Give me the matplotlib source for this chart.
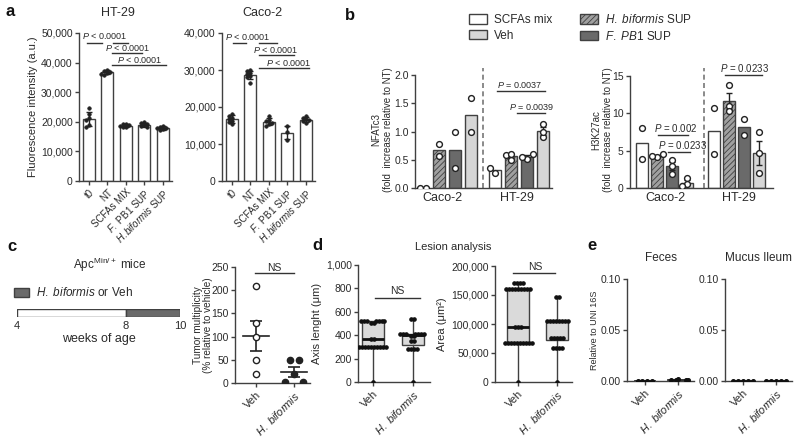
import numpy as np
import matplotlib
matplotlib.use('Agg')
import matplotlib.pyplot as plt
from matplotlib.patches import Patch

plt.rcParams['font.family'] = ['Liberation Sans', 'DejaVu Sans']
plt.rcParams['mathtext.fontset'] = 'custom'
plt.rcParams['mathtext.rm'] = 'Liberation Sans'
plt.rcParams['mathtext.it'] = 'Liberation Sans:italic'
plt.rcParams['hatch.linewidth'] = 0.6
plt.rcParams['text.color'] = '#2a2a2a'
plt.rcParams['axes.labelcolor'] = '#2a2a2a'
plt.rcParams['xtick.color'] = '#404040'
plt.rcParams['ytick.color'] = '#404040'
plt.rcParams['xtick.labelcolor'] = '#2a2a2a'
plt.rcParams['ytick.labelcolor'] = '#2a2a2a'

# ---------------- data ----------------
# panel a: fluorescence intensity, individual replicates
a_labels = ['t0', 'NT', 'SCFAs MIX', r'$\it{F.}$ PB1 SUP', r'$\it{H.biformis}$ SUP']
ht29_t0 = [24700, 22800, 21200, 20500, 19000, 18300]
ht29_nt = [37600, 37200, 36900, 36600, 36300, 35900]
ht29_scfa = [19400, 19100, 18800, 18600, 18400, 18100]
ht29_pb1 = [20000, 19500, 19100, 18800, 18500, 18100]
ht29_hbif = [18600, 18300, 18000, 17800, 17500, 17200]
caco_t0 = [18200, 17600, 17100, 16700, 16300, 15900, 15400]
caco_nt = [30000, 29600, 29200, 28800, 28400, 28000, 26500]
caco_scfa = [17600, 16500, 16100, 15800, 15500, 14800]
caco_pb1 = [14800, 13200, 11200]
caco_hbif = [17600, 17100, 16700, 16400, 16100, 15800]

# panel b: fold increase relative to NT (SCFAs mix, H. biformis, F. PB1, Veh)
b_groups = ['Caco-2', 'HT-29']
nfat_caco = [[0.0, 0.0], [0.56, 0.78], [0.35, 1.0], [1.0, 1.6]]
nfat_ht29 = [[0.27, 0.36], [0.50, 0.59, 0.61], [0.52, 0.55, 0.60], [0.90, 1.0, 1.13]]
h3k_caco = [[8.1, 3.9], [4.1, 4.3, 4.5], [3.8, 3.0, 1.9], [1.3, 0.6, 0.3]]
h3k_ht29 = [[10.7, 4.5], [13.8, 11.0, 10.3], [9.2, 7.1], [7.5, 4.7, 2.0]]

# panel c: tumour multiplicity
tumor_veh = [209, 129, 99, 50, 19]
tumor_hbif = [50, 50, 19, 2, 2]
timeline_weeks = [4, 8, 10]

# panel d: lesion analysis (min, q1, median, q3, max) and points
len_stats = [(0, 300, 370, 520, 520), (0, 316, 400, 410, 540)]
len_veh_pts = [0] + [300] * 10 + [370] * 2 + [505] * 2 + [520] * 7
len_hbif_pts = [0] + [285] * 4 + [350] * 2 + [395] * 2 + [410] * 7 + [540] * 2
area_stats = [(0, 67000, 95000, 160000, 170000), (0, 72000, 105000, 105000, 147000)]
area_veh_pts = [0] + [67000] * 10 + [95000] * 3 + [160000] * 9 + [170000] * 4
area_hbif_pts = [0] + [58000] * 4 + [76000] * 5 + [105000] * 8 + [147000] * 2

# panel e: relative to UNI 16S
feces_veh = [0, 0, 0, 0]
feces_hbif = [0.0015, 0.0005, 0.0005, 0.0005, 0.001]
mucus_veh = [0, 0, 0, 0, 0]
mucus_hbif = [0, 0, 0, 0, 0]

# ---------------- helpers ----------------
W, H = 800, 437
fig = plt.figure(figsize=(W / 100, H / 100), dpi=100)
AXC = '#404040'
LIGHT = '#d6d6d6'
DARK = '#6a6a6a'
HATCHF = '#a0a0a0'


def px_axes(l, t, r, b):
    return fig.add_axes([l / W, 1 - b / H, (r - l) / W, (b - t) / H])


def style(ax, fs=7.5):
    for s in ['top', 'right']:
        ax.spines[s].set_visible(False)
    for s in ['left', 'bottom']:
        ax.spines[s].set_color(AXC)
        ax.spines[s].set_linewidth(1)
    ax.tick_params(labelsize=fs, length=3, width=1, pad=1.5)


def swarm(vals, ppx, ppy, d):
    placed, offs = [], []
    for v in vals:
        y = v * ppy
        x = 0
        for k in [0, -1, 1, -2, 2, -3, 3, -4, 4, -5, 5, -6, 6]:
            x = k * d
            if all((x - a) ** 2 + (y - b) ** 2 >= (0.95 * d) ** 2 for a, b in placed):
                break
        placed.append((x, y))
        offs.append(x)
    offs = np.array(offs, float)
    vals = np.asarray(vals, float)
    for v in np.unique(vals):
        m = vals == v
        if m.sum() > 1:
            offs[m] -= offs[m].mean()
    return offs / ppx


def sig(ax, x0, x1, y, ty, tx, txt, fs=6.5):
    ax.plot([x0, x1], [y, y], color='#333333', lw=1, clip_on=False)
    if txt:
        ax.text(tx, ty, txt, ha='center', va='center', fontsize=fs, clip_on=False)


def rot_labels(ax, labels, fs=7.5):
    ax.set_xticklabels(labels, rotation=45, ha='right', rotation_mode='anchor', fontsize=fs)


# ---------------- panel a ----------------
def panel_a(ax, pts, ymax, ppy):
    x = np.arange(len(pts))
    means = [np.mean(p) for p in pts]
    sds = [np.std(p, ddof=1) for p in pts]
    ax.bar(x, means, width=0.66, color='white', edgecolor=AXC, lw=1, zorder=1)
    ax.errorbar(x, means, yerr=sds, fmt='none', ecolor='#222222', elinewidth=1,
                capsize=2, capthick=1, zorder=3)
    for i, p in enumerate(pts):
        ax.plot(x[i] + swarm(p, 18.5, ppy, 3.0), p, 'o', ms=2.6, color='#222222',
                mec='#222222', mew=0.4, zorder=4)
    ax.set_ylim(0, ymax)
    ax.set_xlim(-0.52, 4.5)
    ax.set_yticks(np.arange(0, ymax + 1, 10000))
    ax.set_yticklabels(['{:,}'.format(v) for v in range(0, ymax + 1, 10000)])
    ax.set_xticks(x)
    style(ax, 7.5)
    rot_labels(ax, a_labels, 7)


ax_ht = px_axes(79, 33, 172, 181)
panel_a(ax_ht, [ht29_t0, ht29_nt, ht29_scfa, ht29_pb1, ht29_hbif], 50000, 148 / 50000)
sig(ax_ht, -0.1, 0.7, 46700, 49000, 0.86, r'$\it{P}$ < 0.0001')
sig(ax_ht, 1.3, 2.1, 46700, 0, 0, '')
sig(ax_ht, 1.24, 2.9, 43300, 44900, 2.1, r'$\it{P}$ < 0.0001')
sig(ax_ht, 1.24, 4.2, 39200, 40900, 2.75, r'$\it{P}$ < 0.0001')
ax_ht.set_ylabel('Fluorescence intensity (a.u.)', fontsize=8, labelpad=2)
fig.text(118 / W, 1 - 13 / H, 'HT-29', ha='center', va='center', fontsize=9)

ax_ca = px_axes(222, 33, 315, 181)
panel_a(ax_ca, [caco_t0, caco_nt, caco_scfa, caco_pb1, caco_hbif], 40000, 148 / 40000)
sig(ax_ca, 0.1, 0.76, 37300, 38900, 0.86, r'$\it{P}$ < 0.0001')
sig(ax_ca, 1.46, 2.43, 37300, 0, 0, '')
sig(ax_ca, 1.46, 3.35, 34000, 35400, 2.4, r'$\it{P}$ < 0.0001')
sig(ax_ca, 1.46, 4.16, 30500, 31900, 3.1, r'$\it{P}$ < 0.0001')
fig.text(262 / W, 1 - 13 / H, 'Caco-2', ha='center', va='center', fontsize=9)

# ---------------- panel b ----------------
faces = ['white', HATCHF, DARK, LIGHT]
hatches = [None, '//////', None, None]


def panel_b(ax, pos, groups, ppx, ppy):
    data = groups[0] + groups[1]
    for i, p in enumerate(data):
        m = np.mean(p)
        ax.bar(pos[i], m, width=0.75, color=faces[i % 4], edgecolor=AXC, lw=1,
               hatch=hatches[i % 4], zorder=1)
        if len(p) > 2:
            sem = np.std(p, ddof=1) / np.sqrt(len(p))
            ax.errorbar(pos[i], m, yerr=sem, fmt='none', ecolor='#222222', elinewidth=1,
                        capsize=2.5, capthick=1, zorder=3)
        ax.plot(pos[i] + swarm(p, ppx, ppy, 5.5), p, 'o', ms=4.2, mfc='white',
                mec='#222222', mew=1, zorder=4)
    style(ax, 7.5)
    ax.tick_params(axis='x', length=0, labelsize=9, pad=3)


ax_nf = px_axes(415, 75, 552, 188)
pos_nf = [0, 1, 2, 3, 4.5, 5.5, 6.5, 7.5]
panel_b(ax_nf, pos_nf, [nfat_caco, nfat_ht29], 16, 56.5)
ax_nf.set_xlim(-0.5, 8.06)
ax_nf.set_ylim(0, 2)
ax_nf.set_yticks([0, 0.5, 1.0, 1.5, 2.0])
ax_nf.set_yticklabels(['0.0', '0.5', '1.0', '1.5', '2.0'])
ax_nf.set_xticks([1.2, 5.9])
ax_nf.set_xticklabels(b_groups)
ax_nf.axvline(3.75, ymin=0, ymax=1.06, color='#777777', lw=1.2, ls=(0, (3, 2)), clip_on=False)
sig(ax_nf, 4.6, 7.6, 1.72, 1.83, 6.06, r'$\it{P}$ = 0.0037')
sig(ax_nf, 5.9, 7.6, 1.33, 1.44, 6.8, r'$\it{P}$ = 0.0039')
fig.text(382 / W, 1 - 130 / H, 'NFATc3\n(fold  increase relative to NT)', rotation=90,
         ha='center', va='center', fontsize=7, multialignment='center', linespacing=1.15)

ax_h3 = px_axes(630, 76, 773, 188)
pos_h3 = [0, 1, 2, 3, 4.8, 5.8, 6.8, 7.8]
panel_b(ax_h3, pos_h3, [h3k_caco, h3k_ht29], 15, 7.47)
ax_h3.set_xlim(-0.8, 8.73)
ax_h3.set_ylim(0, 15)
ax_h3.set_yticks([0, 5, 10, 15])
ax_h3.set_xticks([1.53, 6.47])
ax_h3.set_xticklabels(b_groups)
ax_h3.axvline(4.13, ymin=0, ymax=1.07, color='#777777', lw=1.2, ls=(0, (3, 2)), clip_on=False)
sig(ax_h3, 1.07, 3.07, 7.1, 8.1, 2.27, r'$\it{P}$ = 0.002', 7)
sig(ax_h3, 1.73, 3.2, 4.8, 5.7, 2.67, r'$\it{P}$ = 0.0233', 7)
sig(ax_h3, 5.5, 8.0, 15.1, 16.1, 6.8, r'$\it{P}$ = 0.0233', 7)
fig.text(602 / W, 1 - 130 / H, 'H3K27ac\n(fold  increase relative to NT)', rotation=90,
         ha='center', va='center', fontsize=7, multialignment='center', linespacing=1.15)

handles = [Patch(fc='white', ec=AXC, label='SCFAs mix'),
           Patch(fc=LIGHT, ec=AXC, label='Veh'),
           Patch(fc=HATCHF, ec=AXC, hatch='//////', label=r'$\it{H.\ biformis}$ SUP'),
           Patch(fc=DARK, ec=AXC, label=r'$\it{F.\ PB1}$ SUP')]
fig.legend(handles=handles, ncol=2, loc='upper left', bbox_to_anchor=(469 / W, 1 - 13 / H),
           frameon=False, fontsize=8.5, handlelength=1.5, handleheight=0.9,
           columnspacing=2.4, labelspacing=0.3, handletextpad=0.6, borderpad=0, borderaxespad=0)

# ---------------- panel c ----------------
fig.text(110 / W, 1 - 265 / H, r'Apc$^{\mathregular{Min/+}}$ mice', ha='center', va='center', fontsize=8.5)
fig.legend(handles=[Patch(fc=DARK, ec=AXC, label=r'$\it{H.\ biformis}$ or Veh')],
           loc='center left', bbox_to_anchor=(14 / W, 1 - 293 / H), frameon=False, fontsize=8.5,
           handlelength=1.3, handleheight=0.8, handletextpad=0.6, borderpad=0, borderaxespad=0)
ax_t = px_axes(17, 309, 180, 317)
ax_t.barh([0.5, 0.5], np.diff(timeline_weeks), left=timeline_weeks[:-1], height=1,
          color=['white', DARK], edgecolor=AXC, lw=1)
ax_t.set_xlim(timeline_weeks[0], timeline_weeks[-1])
ax_t.set_ylim(0, 1)
for s in ax_t.spines.values():
    s.set_visible(False)
ax_t.set_yticks([])
ax_t.set_xticks(timeline_weeks)
ax_t.tick_params(axis='x', length=0, labelsize=8, pad=3)
ax_t.set_xlabel('weeks of age', fontsize=9, labelpad=1)

ax_c = px_axes(235, 267, 310, 383)
ax_c.plot(np.zeros(len(tumor_veh)) + swarm(tumor_veh, 38, 116 / 250, 7), tumor_veh, 'o', ms=4.5,
          mfc='white', mec='#222222', mew=1, zorder=4)
ax_c.plot(1 + swarm(tumor_hbif, 38, 116 / 250, 9), tumor_hbif, 'o', ms=4.5, color='#222222', zorder=4)
for i, p in enumerate([tumor_veh, tumor_hbif]):
    m = np.mean(p)
    sem = np.std(p, ddof=1) / np.sqrt(len(p))
    ax_c.plot([i - 0.35, i + 0.35], [m, m], color='#222222', lw=1.2, zorder=3)
    ax_c.errorbar(i, m, yerr=sem, fmt='none', ecolor='#222222', elinewidth=1.2,
                  capsize=4, capthick=1.2, zorder=3)
ax_c.set_xlim(-0.55, 1.42)
ax_c.set_ylim(0, 250)
ax_c.set_yticks(range(0, 251, 50))
ax_c.set_xticks([0, 1])
style(ax_c, 7.5)
rot_labels(ax_c, ['Veh', r'$\it{H.\ biformis}$'], 8)
sig(ax_c, -0.03, 1.0, 237, 248, 0.47, 'NS', 7.5)
fig.text(203 / W, 1 - 325 / H, 'Tumor multiplicity\n(% relative to vehicle)', rotation=90,
         ha='center', va='center', fontsize=7.2, multialignment='center', linespacing=1.0)

# ---------------- panel d ----------------
def panel_d(ax, stats, pts, ymax, ppx, ppy):
    bx = [dict(whislo=s[0], q1=s[1], med=s[2], q3=s[3], whishi=s[4], fliers=[]) for s in stats]
    ax.bxp(bx, positions=[1, 2], widths=0.55, showcaps=False, patch_artist=True,
           boxprops=dict(facecolor='#dadada', edgecolor=AXC, lw=1),
           whiskerprops=dict(color=AXC, lw=1),
           medianprops=dict(color='#111111', lw=2), manage_ticks=False)
    for i, p in enumerate(pts):
        ax.plot(1 + i + swarm(p, ppx, ppy, 3.0), p, 'o', ms=2.3, color='#111111', zorder=4)
    ax.set_ylim(0, ymax)
    ax.set_xticks([1, 2])
    style(ax, 7.5)
    rot_labels(ax, ['Veh', r'$\it{H.\ biformis}$'], 8)


ax_dl = px_axes(358, 265, 430, 382)
panel_d(ax_dl, len_stats, [len_veh_pts, len_hbif_pts], 1000, 40, 117 / 1000)
ax_dl.set_xlim(0.625, 2.43)
ax_dl.set_yticks(range(0, 1001, 200))
ax_dl.set_yticklabels(['{:,}'.format(v) for v in range(0, 1001, 200)])
sig(ax_dl, 1.05, 2.18, 720, 775, 1.62, 'NS', 7.5)
ax_dl.set_ylabel('Axis lenght (μm)', fontsize=8, labelpad=3)

ax_da = px_axes(495, 266, 572, 382)
panel_d(ax_da, area_stats, [area_veh_pts, area_hbif_pts], 200000, 39, 116 / 200000)
ax_da.set_xlim(0.41, 2.38)
ax_da.set_yticks(range(0, 200001, 50000))
ax_da.set_yticklabels(['{:,}'.format(v) for v in range(0, 200001, 50000)])
sig(ax_da, 0.87, 1.95, 188000, 199000, 1.44, 'NS', 7.5)
ax_da.set_ylabel('Area (μm²)', fontsize=8, labelpad=3)
fig.text(453 / W, 1 - 247 / H, 'Lesion analysis', ha='center', va='center', fontsize=8)

# ---------------- panel e ----------------
def panel_e(ax, groups, title):
    for i, p in enumerate(groups):
        ax.plot(i + swarm(p, 33, 102 / 0.1, 5), p, 'o', ms=2.6, color='#111111', zorder=4)
        ax.plot([i - 0.3, i + 0.3], [np.median(p)] * 2, color='#111111', lw=1.2, zorder=3)
    ax.set_ylim(0, 0.1)
    ax.set_xlim(-0.55, 1.5)
    ax.set_yticks([0, 0.05, 0.1])
    ax.set_yticklabels(['0.00', '0.05', '0.10'])
    ax.set_xticks([0, 1])
    style(ax, 7.5)
    rot_labels(ax, ['Veh', r'$\it{H.\ biformis}$'], 8)
    ax.set_title(title, fontsize=8.5, pad=13)


ax_ef = px_axes(627, 279, 694, 381)
panel_e(ax_ef, [feces_veh, feces_hbif], 'Feces')
ax_ef.set_ylabel('Relative to UNI 16S', fontsize=6.5, labelpad=1)
ax_em = px_axes(725, 279, 792, 381)
panel_e(ax_em, [mucus_veh, mucus_hbif], 'Mucus Ileum')

# ---------------- panel letters ----------------
for lab, x, y in [('a', 10, 12), ('b', 350, 15), ('c', 12, 247), ('d', 317, 246), ('e', 592, 245)]:
    fig.text(x / W, 1 - y / H, lab, fontsize=12, fontweight='bold', ha='center', va='center',
             color='#111111')

fig.savefig('out.png', dpi=100)
